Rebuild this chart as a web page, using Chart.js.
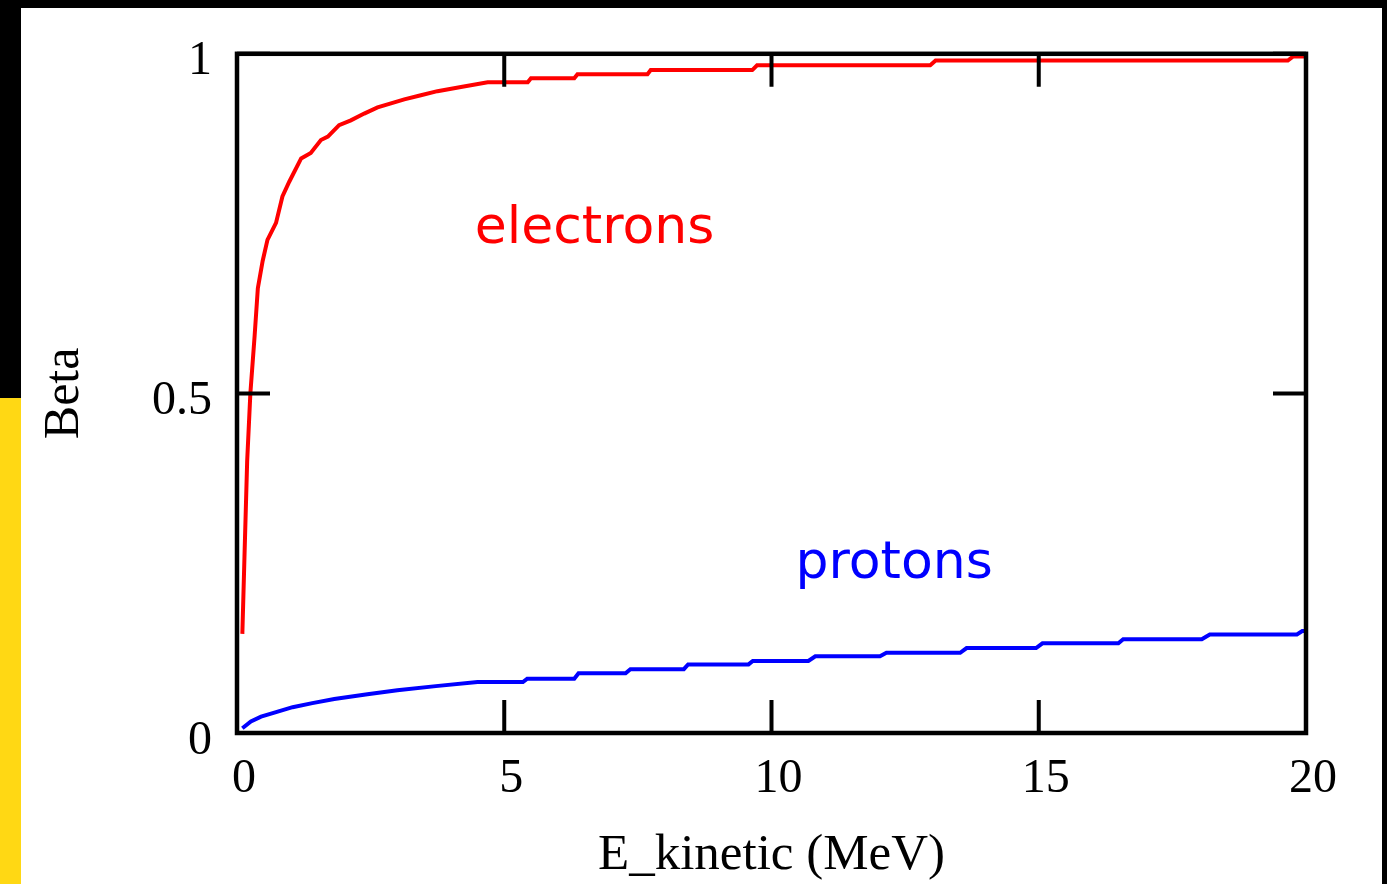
<!DOCTYPE html>
<html>
<head>
<meta charset="utf-8">
<title>Beta vs kinetic energy</title>
<script src="https://cdn.jsdelivr.net/npm/chart.js@4.4.1/dist/chart.umd.min.js"></script>
<style>
    html, body { margin: 0; padding: 0; background: #000; overflow: hidden; }
    #panel { position: absolute; left: 21px; top: 8px; width: 1361px; height: 876px; background: #fff; }
    #strip { position: absolute; left: 0; top: 398px; width: 21px; height: 486px; background: #ffd814; }
    #chart { position: absolute; left: 0; top: 0; }
</style>
</head>
<body>
<div id="panel"></div>
<div id="strip"></div>
<canvas id="chart" width="1387" height="884"></canvas>
<script>
// Electrons: kinetic energy (MeV) and beta
const electronEnergy = [0.10, 0.14, 0.19, 0.25, 0.33, 0.39, 0.48, 0.57, 0.73, 0.85, 0.98, 1.20, 1.38, 1.57, 1.70,
    1.91, 2.13, 2.38, 2.63, 2.88, 3.13, 3.44, 3.75, 4.19, 4.69, 5.44, 5.50, 6.31, 6.37, 7.68, 7.74,
    9.64, 9.73, 12.97, 13.07, 19.66, 19.76, 20.0];
const electronBeta = [0.146, 0.26, 0.40, 0.50, 0.585, 0.655, 0.695, 0.726, 0.751, 0.790, 0.812, 0.846, 0.854, 0.873, 0.878,
    0.895, 0.902, 0.912, 0.921, 0.927, 0.933, 0.939, 0.945, 0.951, 0.958, 0.958, 0.964, 0.964, 0.970, 0.970, 0.976,
    0.976, 0.983, 0.983, 0.990, 0.990, 0.996, 0.996];

// Protons
const protonEnergy = [0.10, 0.26, 0.45, 0.70, 1.04, 1.41, 1.82, 2.44, 3.0, 3.72, 4.5, 5.0, 5.35, 5.43, 6.31, 6.39,
    7.27, 7.36, 8.36, 8.44, 9.57, 9.65, 10.69, 10.82, 12.03, 12.15, 13.53, 13.65, 14.95, 15.07,
    16.49, 16.58, 18.05, 18.2, 19.83, 19.93, 20.0];
const protonBeta = [0.007, 0.017, 0.024, 0.030, 0.038, 0.044, 0.050, 0.057, 0.063, 0.069, 0.075, 0.075, 0.075, 0.080, 0.080, 0.088,
    0.088, 0.094, 0.094, 0.101, 0.101, 0.106, 0.106, 0.113, 0.113, 0.118, 0.118, 0.125, 0.125, 0.132,
    0.132, 0.138, 0.138, 0.145, 0.145, 0.150, 0.150];

// Axis ticks
const energyTicks = [0, 5, 10, 15, 20];
const betaTicks = [0, 0.5, 1];

// In-plot labels (data coordinates)
const curveNames = ['electrons', 'protons'];
const curveColors = ['#ff0000', '#0000ff'];
const nameAt = [[4.45, 0.721], [10.45, 0.228]];

function toPoints(xs, ys) {
    return xs.map(function(v, i) { return {x: v, y: ys[i]}; });
}

const serif = '"Liberation Serif", "Times New Roman", serif';

// Frame, inward tick marks and curve names
const decorations = {
    id: 'decorations',
    afterDatasetsDraw: function(chart) {
        const ctx = chart.ctx;
        const a = chart.chartArea;
        const xs = chart.scales.x, ys = chart.scales.y;
        ctx.save();
        ctx.strokeStyle = '#000';
        ctx.lineWidth = 4;
        ctx.beginPath();
        energyTicks.forEach(function(t) {
            const px = xs.getPixelForValue(t);
            ctx.moveTo(px, a.bottom); ctx.lineTo(px, a.bottom - 33);
            ctx.moveTo(px, a.top); ctx.lineTo(px, a.top + 33);
        });
        betaTicks.forEach(function(t) {
            const py = ys.getPixelForValue(t);
            ctx.moveTo(a.left, py); ctx.lineTo(a.left + 33, py);
            ctx.moveTo(a.right, py); ctx.lineTo(a.right - 33, py);
        });
        ctx.stroke();
        ctx.lineWidth = 4.5;
        ctx.strokeRect(a.left, a.top, a.right - a.left, a.bottom - a.top);

        ctx.font = '52px "DejaVu Sans", sans-serif';
        ctx.textBaseline = 'alphabetic';
        ctx.textAlign = 'left';
        curveNames.forEach(function(name, i) {
            ctx.fillStyle = curveColors[i];
            ctx.fillText(name, xs.getPixelForValue(nameAt[i][0]), ys.getPixelForValue(nameAt[i][1]));
        });
        ctx.restore();
    }
};

new Chart(document.getElementById('chart'), {
    type: 'line',
    data: {
        datasets: [{
            label: curveNames[0],
            data: toPoints(electronEnergy, electronBeta),
            borderColor: curveColors[0],
            borderWidth: 4,
            pointRadius: 0,
            tension: 0,
            fill: false
        }, {
            label: curveNames[1],
            data: toPoints(protonEnergy, protonBeta),
            borderColor: curveColors[1],
            borderWidth: 4,
            pointRadius: 0,
            tension: 0,
            fill: false
        }]
    },
    options: {
        responsive: false,
        animation: false,
        devicePixelRatio: 1,
        layout: { padding: { top: 51.5, right: 81, bottom: 0, left: 0 } },
        plugins: {
            legend: { display: false },
            tooltip: { enabled: false }
        },
        scales: {
            x: {
                type: 'linear',
                min: 0,
                max: 20,
                afterBuildTicks: function(s) { s.ticks = energyTicks.map(function(v) { return {value: v}; }); },
                afterFit: function(s) { s.height = 151; },
                grid: { display: false, drawTicks: false },
                border: { display: false },
                ticks: {
                    color: '#000',
                    padding: 18,
                    labelOffset: 7,
                    maxRotation: 0,
                    callback: function(v) { return String(v); },
                    font: { family: serif, size: 48 }
                },
                title: {
                    display: true,
                    text: 'E_kinetic (MeV)',
                    color: '#000',
                    padding: { top: 0, bottom: -2 },
                    font: { family: serif, size: 51 }
                }
            },
            y: {
                type: 'linear',
                min: 0,
                max: 1,
                afterBuildTicks: function(s) { s.ticks = betaTicks.map(function(v) { return {value: v}; }); },
                afterFit: function(s) { s.width = 237; },
                grid: { display: false, drawTicks: false },
                border: { display: false },
                ticks: {
                    color: '#000',
                    padding: 25,
                    labelOffset: 8,
                    callback: function(v) { return String(v); },
                    font: { family: serif, size: 48 }
                },
                title: {
                    display: true,
                    text: 'Beta',
                    color: '#000',
                    padding: { top: 35, bottom: 0 },
                    font: { family: serif, size: 50 }
                }
            }
        }
    },
    plugins: [decorations]
});
</script>
</body>
</html>
